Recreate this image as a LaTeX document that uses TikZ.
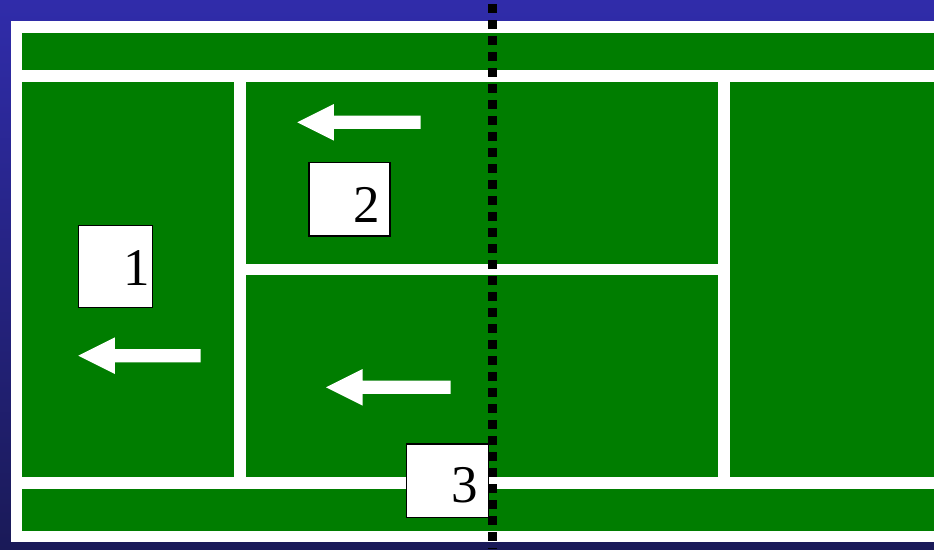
\documentclass[tikz,border=0pt]{standalone}
\usepackage{fontspec}
\setmainfont{Liberation Serif}
\definecolor{court}{RGB}{0,125,0}
\definecolor{bgtop}{RGB}{48,44,170}
\definecolor{bgbot}{RGB}{26,26,88}
\begin{document}
\begin{tikzpicture}[x=1pt,y=-1pt,
  numbox/.style n args={5}{draw=black, line width=1.3pt, fill=white, rectangle,
    minimum width=#1, minimum height=#2, inner xsep=#3, inner ysep=0pt,
    text width=#4, text height=#5, text depth=0pt, align=right,
    font=\fontsize{53}{53}\selectfont},
  courtpart/.style={fill=court},
  leftarrow/.pic={\fill[white] (0,0) -- (36.6,-18.3) -- (36.6,-6.6) -- (#1,-6.6)
     -- (#1,6.6) -- (36.6,6.6) -- (36.6,18.3) -- cycle;}]
\useasboundingbox (0,0) rectangle (934,549);
% background
\shade[top color=bgtop, bottom color=bgbot] (0,0) rectangle (934,549);
% court lines
\fill[white] (10.5,20.5) rectangle (934,542.3);
% court areas
\fill[courtpart] (22.3,32.5) rectangle (934,70);
\fill[courtpart] (22.3,82.3) rectangle (234.3,476.7);
\fill[courtpart] (246,82.3) rectangle (717.7,264);
\fill[courtpart] (246,275.3) rectangle (717.7,476.7);
\fill[courtpart] (729.7,82.3) rectangle (934,476.7);
\fill[courtpart] (22.3,489.3) rectangle (934,530.7);
% arrows
\pic at (78.3,355.7) {leftarrow=122.4};
\pic at (297.3,122.3) {leftarrow=123.4};
\pic at (326,387.3) {leftarrow=124.7};
% numbered boxes
\node[numbox={74pt}{82pt}{2.5pt}{69pt}{38.4pt}] (b1) at (115.2,266.7) {1};
\node[numbox={81.1pt}{73.7pt}{9.7pt}{61.7pt}{45.8pt}] (b2) at (349.5,199.2) {2};
\node[numbox={82pt}{73.7pt}{10.6pt}{60.8pt}{44.2pt}] (b3) at (447.4,480.8) {3};
% net
\coordinate (nettop) at (492.2,4.3);
\coordinate (netbot) at (492.2,549);
\draw[line width=9pt, dash pattern=on 8.5pt off 7.5pt] (nettop) -- (netbot);
\end{tikzpicture}
\end{document}
